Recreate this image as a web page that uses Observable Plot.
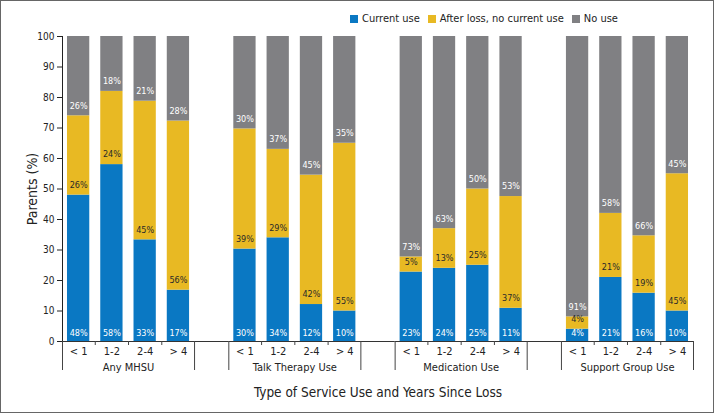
<!DOCTYPE html>
<html><head><meta charset="utf-8">
<script src="https://cdn.jsdelivr.net/npm/d3@7"></script>
<script src="https://cdn.jsdelivr.net/npm/@observablehq/plot@0.6"></script>
<style>
body{margin:0;background:#fff;}
#wrap{position:relative;width:714px;height:415px;overflow:hidden;}
#border{position:absolute;left:0;top:0;width:714px;height:413px;box-sizing:border-box;border:1.5px solid #666;pointer-events:none;}
#legend{position:absolute;left:350px;top:12px;}
#legend .lg-swatches-wrap{min-height:0;margin:0;}
#legend .lg-swatch > svg{margin-right:4px;}
#legend .lg-swatches-wrap .lg-swatch{margin-right:8px;}
#chart g[aria-label="y-axis label"]{font-size:14px;}
#chart g[aria-label="fx-axis label"]{font-size:13.5px;}
#chart g[aria-label="fx-axis tick label"]{font-size:11px;}
#chart g[aria-label="x-axis tick label"]{font-size:11px;}
#chart svg, #legend{font-stretch:condensed;}
</style></head><body>
<div id="wrap"><div id="chart"></div><div id="legend"></div><div id="border"></div></div>
<script>
const groups = ["Any MHSU", "Talk Therapy Use", "Medication Use", "Support Group Use"];
const years = ["< 1", "1-2", "2-4", "> 4"];
const statuses = ["Current use", "After loss, no current use", "No use"];
const colors = ["#0a78c3", "#e8b923", "#808083"];
const labelColors = ["#ffffff", "#2a2a2a", "#ffffff"];
const currentUse = [48, 58, 33, 17, 30, 34, 12, 10, 23, 24, 25, 11, 4, 21, 16, 10];
const afterLoss  = [26, 24, 45, 56, 39, 29, 42, 55, 5, 13, 25, 37, 4, 21, 19, 45];
const noUse      = [26, 18, 21, 28, 30, 37, 45, 35, 73, 63, 50, 53, 91, 58, 66, 45];
const yTicks = [0, 10, 20, 30, 40, 50, 60, 70, 80, 90, 100];
const yLabel = "Parents (%)";
const xTitle = "Type of Service Use and Years Since Loss";

const series = [currentUse, afterLoss, noUse];
const rows = [];
groups.forEach((g, gi) => years.forEach((yr, yi) => {
  series.forEach((arr, si) => rows.push({group: g, year: yr, status: statuses[si], value: arr[gi * years.length + yi]}));
}));

const FONT = '"DejaVu Sans Condensed", "DejaVu Sans", sans-serif';
const W = 714, H = 413, mL = 62, mR = 21, mT = 36, mB = 72;
const fxPad = 0.206, xPadIn = 0.33, xPadOut = 0.15;
const fxStep = (W - mL - mR) / (groups.length - fxPad);
const fxBand = fxStep * (1 - fxPad);
const xStep = fxBand / (years.length - xPadIn + 2 * xPadOut);
const edgeDx = xStep * xPadOut + xStep * (1 - xPadIn) / 2;
const gapPx = fxStep - fxBand;
const yPx = H - mT - mB;
const sepDepth = 29 / yPx, tickDepth = 4 / yPx;
const tickRows = groups.flatMap(g => years.slice(0, -1).map(y => ({group: g, year: y})));
const stackOpts = {fx: "group", x: "year", y: "value", z: "status", offset: "normalize"};

const chart = Plot.plot({
  width: W, height: H, marginLeft: mL, marginRight: mR, marginTop: mT, marginBottom: mB,
  style: {fontFamily: FONT, fontSize: "10px", color: "#222", background: "transparent"},
  fx: {domain: groups, axis: "bottom", paddingInner: fxPad, paddingOuter: 0, round: false, label: xTitle, labelArrow: "none",
       tickSize: 0, tickPadding: 22, labelAnchor: "center", labelOffset: 55},
  x: {domain: years, paddingInner: xPadIn, paddingOuter: xPadOut, round: false, tickSize: 0, tickPadding: 6, label: null},
  y: {domain: [0, 1], ticks: yTicks.map(v => v / 100), tickFormat: d => Math.round(d * 100),
      tickSize: 5, tickPadding: 3, line: true, label: yLabel, labelArrow: "none", labelAnchor: "center", labelOffset: 35},
  color: {domain: statuses, range: colors},
  marks: [
    Plot.barY(rows, Plot.stackY({...stackOpts, fill: "status"})),
    ...statuses.map((s, i) => Plot.text(rows, Plot.stackY1({...stackOpts,
      text: d => d.status === s ? d.value + "%" : null,
      fill: labelColors[i], fontSize: 9, dy: i === 0 ? -8.5 : -10}))),
    Plot.ruleY(groups.slice(0, -1), {fx: d => d, y: () => 0, insetRight: -gapPx, stroke: "#333"}),
    Plot.ruleY(groups.slice(-1), {fx: d => d, y: () => 0, stroke: "#333"}),
    Plot.ruleX(groups, {fx: d => d, x: () => years[0], dx: -edgeDx, y1: () => 0, y2: () => -sepDepth, stroke: "#444"}),
    Plot.ruleX(groups, {fx: d => d, x: () => years[years.length - 1], dx: edgeDx, y1: () => 0, y2: () => -sepDepth, stroke: "#444"}),
    Plot.ruleX(tickRows, {fx: "group", x: "year", dx: xStep / 2, y1: () => 0, y2: () => -tickDepth, stroke: "#444"})
  ]
});
document.getElementById("chart").appendChild(chart);

const legend = Plot.legend({color: {type: "categorical", domain: statuses, range: colors}, legend: "swatches",
  swatchSize: 8, className: "lg", style: {fontFamily: FONT, fontSize: "11px", color: "#222"}});
document.getElementById("legend").appendChild(legend);
</script>
</body></html>
